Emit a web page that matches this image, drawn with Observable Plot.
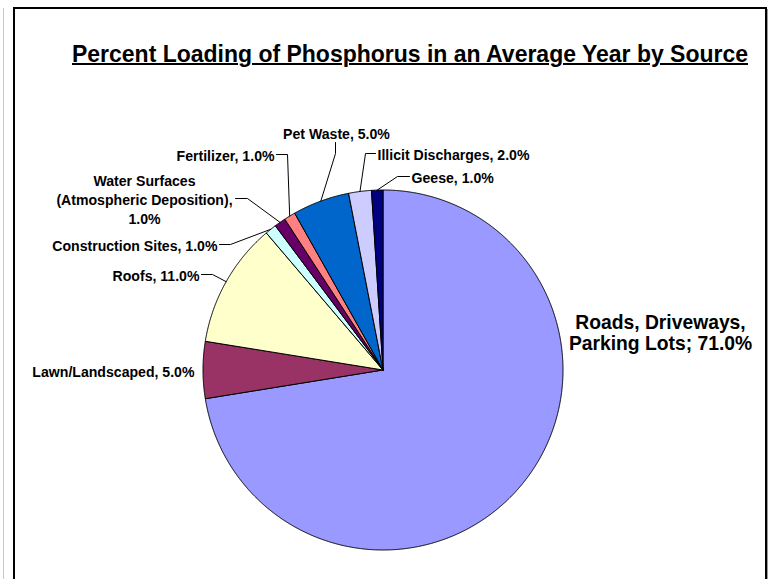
<!DOCTYPE html>
<html>
<head>
<meta charset="utf-8">
<script src="https://cdn.jsdelivr.net/npm/d3@7"></script>
<script src="https://cdn.jsdelivr.net/npm/@observablehq/plot@0.6"></script>
<style>
  html, body { margin: 0; padding: 0; background: #fff; overflow: hidden; }
  #wrap { position: relative; width: 775px; height: 579px; overflow: hidden; font-family: "Liberation Sans", Arial, sans-serif; }
  #chart { position: absolute; left: 0; top: 0; }
  #frame { position: absolute; left: 13px; top: 7px; width: 754px; height: 640px; border: 2px solid #000; box-sizing: border-box; }
  #shadowL { position: absolute; left: 3px; top: 8px; width: 1px; height: 600px; background: #c8c8c8; }
  #shadowR { position: absolute; left: 767px; top: 9px; width: 1px; height: 600px; background: #9a9a9a; }
  #title { position: absolute; left: 410px; top: 42px; white-space: nowrap; font-size: 24px; line-height: 24px;
           font-weight: bold; font-family: "Liberation Sans Narrow", "Arial Narrow", "Liberation Sans", Arial, sans-serif;
           text-decoration: underline; text-decoration-thickness: 2px; transform-origin: 0 0; }
</style>
</head>
<body>
<div id="wrap">
  <div id="chart"></div>
  <div id="shadowL"></div>
  <div id="shadowR"></div>
  <div id="frame"></div>
  <div id="title">Percent Loading of Phosphorus in an Average Year by Source</div>
</div>
<script>
// ---------------- data ----------------
const categories = [
  "Roads, Driveways, Parking Lots",
  "Lawn/Landscaped",
  "Roofs",
  "Construction Sites",
  "Water Surfaces (Atmospheric Deposition)",
  "Fertilizer",
  "Pet Waste",
  "Illicit Discharges",
  "Geese"
];
const values = [71, 5, 11, 1, 1, 1, 5, 2, 1];

// ---------------- styles / layout ----------------
const palette = ["#9999FF", "#993366", "#FFFFCC", "#CCFFFF", "#660066", "#FF8080", "#0066CC", "#CCCCFF", "#000080"];
const pieCx = 382.5, pieCy = 369.5, R = 180;
const smallSize = 14.1, bigSize = 19.3;

// label layout, in pixels: text anchor point, alignment, line wrapping, leader (start, elbow)
const labelLayout = [
  { x: 660, y: 332, anchor: "middle", size: bigSize, lines: ["Roads, Driveways,", "Parking Lots; {v}"], leader: null },
  { x: 194, y: 370, anchor: "end", size: smallSize, lines: ["{n}, {v}"], leader: null },
  { x: 199, y: 274, anchor: "end", size: smallSize, lines: ["{n}, {v}"], leader: [[201, 274], [212, 274]] },
  { x: 217, y: 244, anchor: "end", size: smallSize, lines: ["{n}, {v}"], leader: [[219, 244], [230, 244]] },
  { x: 144, y: 198, anchor: "middle", size: smallSize, lines: ["Water Surfaces", "(Atmospheric Deposition),", "{v}"], leader: [[235, 198], [247, 198]] },
  { x: 274, y: 154, anchor: "end", size: smallSize, lines: ["{n}, {v}"], leader: [[276, 154], [287, 154]] },
  { x: 336, y: 132, anchor: "middle", size: smallSize, lines: ["{n}, {v}"], leader: [[335, 142], [335, 153]] },
  { x: 377, y: 153, anchor: "start", size: smallSize, lines: ["{n}, {v}"], leader: [[375, 153], [365, 153]] },
  { x: 411, y: 176, anchor: "start", size: smallSize, lines: ["{n}, {v}"], leader: [[409, 176], [397, 176]] }
];

// pixel -> pie unit coordinates (inverse of the Plot scales below)
const ux = px => (px - pieCx) / R;
const uy = py => (pieCy - py) / R;

// ---------------- geometry from data ----------------
const arcs = d3.pie().sort(null).value(d => d)(values);

const slicePts = arcs.flatMap((a, i) => {
  const n = Math.max(2, Math.ceil((a.endAngle - a.startAngle) / (Math.PI / 720)));
  const pts = [{ k: categories[i], x: 0, y: 0 }];
  for (let j = 0; j <= n; j++) {
    const t = a.startAngle + (a.endAngle - a.startAngle) * j / n;
    pts.push({ k: categories[i], x: Math.sin(t), y: Math.cos(t) });
  }
  pts.push({ k: categories[i], x: 0, y: 0 });
  return pts;
});

const leaderPts = arcs.flatMap((a, i) => {
  const L = labelLayout[i].leader;
  if (!L) return [];
  const mid = (a.startAngle + a.endAngle) / 2;
  return [
    { k: i, x: ux(L[0][0]), y: uy(L[0][1]) },
    { k: i, x: ux(L[1][0]), y: uy(L[1][1]) },
    { k: i, x: Math.sin(mid), y: Math.cos(mid) }
  ];
});

const labels = categories.map((n, i) => {
  const v = values[i].toFixed(1) + "%";
  const lay = labelLayout[i];
  return {
    text: lay.lines.map(s => s.replace("{n}", n).replace("{v}", v)).join("\n"),
    x: ux(lay.x), y: uy(lay.y), anchor: lay.anchor, size: lay.size
  };
});

const textMarks = ["start", "middle", "end"].flatMap(anchor =>
  [smallSize, bigSize].map(size => Plot.text(labels.filter(d => d.anchor === anchor && d.size === size), {
    x: "x", y: "y", text: "text", textAnchor: anchor, lineAnchor: "middle",
    fontSize: size, fontWeight: "bold", fill: "#000",
    lineHeight: size === bigSize ? 1.1 : 1.35,
    fontFamily: "'Liberation Sans', Arial, sans-serif"
  }))
);

const chart = Plot.plot({
  width: 775,
  height: 579,
  margin: 0,
  style: "background: transparent; overflow: visible;",
  x: { domain: [-1, 1], range: [pieCx - R, pieCx + R], axis: null },
  y: { domain: [-1, 1], range: [pieCy + R, pieCy - R], axis: null },
  color: { domain: categories, range: palette },
  marks: [
    Plot.line(slicePts, { x: "x", y: "y", z: "k", fill: "k", stroke: "#000", strokeWidth: 1, strokeLinejoin: "round", curve: "linear" }),
    Plot.line(leaderPts, { x: "x", y: "y", z: "k", stroke: "#000", strokeWidth: 1, curve: "linear" }),
    ...textMarks
  ]
});
document.getElementById("chart").appendChild(chart);

// fit the title to the reference width (676px), centred at x = 410
const t = document.getElementById("title");
const w = t.getBoundingClientRect().width;
const k = 676 / w;
t.style.transform = `translateX(${-338}px) scaleX(${k})`;
</script>
</body>
</html>
